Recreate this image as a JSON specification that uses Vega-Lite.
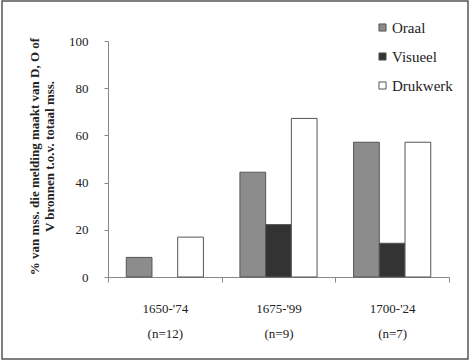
{
  "$schema": "https://vega.github.io/schema/vega-lite/v6.json",
  "width": 466,
  "height": 358,
  "autosize": {"type": "none"},
  "padding": {"left": 2, "top": 1, "right": 2, "bottom": 3},
  "background": "white",
  "config": {
    "view": {"stroke": "#555", "strokeWidth": 1.5},
    "font": "Liberation Serif, serif",
    "axis": {"labelFont": "Liberation Serif, serif", "titleFont": "Liberation Serif, serif"},
    "legend": {"labelFont": "Liberation Serif, serif", "titleFont": "Liberation Serif, serif"}
  },
  "data": {
    "values": [
      {"period": "1650-'74 (n=12)", "bron": "Oraal", "pct": 8.3},
      {"period": "1650-'74 (n=12)", "bron": "Visueel", "pct": 0},
      {"period": "1650-'74 (n=12)", "bron": "Drukwerk", "pct": 16.9},
      {"period": "1675-'99 (n=9)", "bron": "Oraal", "pct": 44.4},
      {"period": "1675-'99 (n=9)", "bron": "Visueel", "pct": 22.2},
      {"period": "1675-'99 (n=9)", "bron": "Drukwerk", "pct": 67.2},
      {"period": "1700-'24 (n=7)", "bron": "Oraal", "pct": 57.1},
      {"period": "1700-'24 (n=7)", "bron": "Visueel", "pct": 14.3},
      {"period": "1700-'24 (n=7)", "bron": "Drukwerk", "pct": 57.1}
    ]
  },
  "transform": [{"filter": "datum.pct > 0"}],
  "mark": {"type": "bar", "stroke": "#555", "strokeWidth": 1},
  "encoding": {
    "x": {
      "field": "period",
      "type": "nominal",
      "sort": null,
      "scale": {"range": [106, 447], "paddingInner": 0, "paddingOuter": 0},
      "axis": {
        "title": null,
        "offset": -82,
        "labelAngle": 0,
        "labelExpr": "split(datum.label, ' ')",
        "labelFont": "Liberation Serif, serif",
        "labelFontSize": 13,
        "labelColor": "#222",
        "labelLineHeight": 25,
        "labelPadding": 20,
        "tickBand": "extent",
        "tickSize": 5,
        "tickColor": "#888",
        "domainColor": "#888",
        "grid": false
      }
    },
    "xOffset": {
      "field": "bron",
      "type": "nominal",
      "sort": ["Oraal", "Visueel", "Drukwerk"],
      "scale": {"domain": ["Oraal", "Visueel", "Drukwerk"], "paddingInner": 0, "paddingOuter": 0.71}
    },
    "y": {
      "field": "pct",
      "type": "quantitative",
      "scale": {"domain": [0, 100], "range": [276, 40], "nice": false},
      "axis": {
        "values": [0, 20, 40, 60, 80, 100],
        "offset": -106,
        "grid": false,
        "tickSize": 4,
        "tickColor": "#888",
        "domainColor": "#888",
        "labelFont": "Liberation Serif, serif",
        "labelFontSize": 13,
        "labelColor": "#222",
        "labelPadding": 16,
        "title": ["% van mss. die melding maakt van D, O of", "V bronnen t.o.v. totaal mss."],
        "titleFont": "Liberation Serif, serif",
        "titleFontSize": 13,
        "titleFontWeight": "bold",
        "titleColor": "#222",
        "titleAngle": -90,
        "titleX": -74,
        "titleY": 155,
        "titleAlign": "center",
        "titleBaseline": "middle",
        "titleLineHeight": 15
      }
    },
    "color": {
      "field": "bron",
      "type": "nominal",
      "sort": ["Oraal", "Visueel", "Drukwerk"],
      "scale": {"domain": ["Oraal", "Visueel", "Drukwerk"], "range": ["#8c8c8c", "#333333", "#ffffff"]},
      "legend": {
        "title": null,
        "orient": "none",
        "legendX": 373,
        "legendY": 19,
        "symbolType": "square",
        "symbolSize": 50,
        "symbolStrokeColor": "#555",
        "symbolStrokeWidth": 1,
        "labelFont": "Liberation Serif, serif",
        "labelFontSize": 15,
        "labelColor": "#222",
        "labelOffset": 2,
        "rowPadding": 13
      }
    }
  }
}
